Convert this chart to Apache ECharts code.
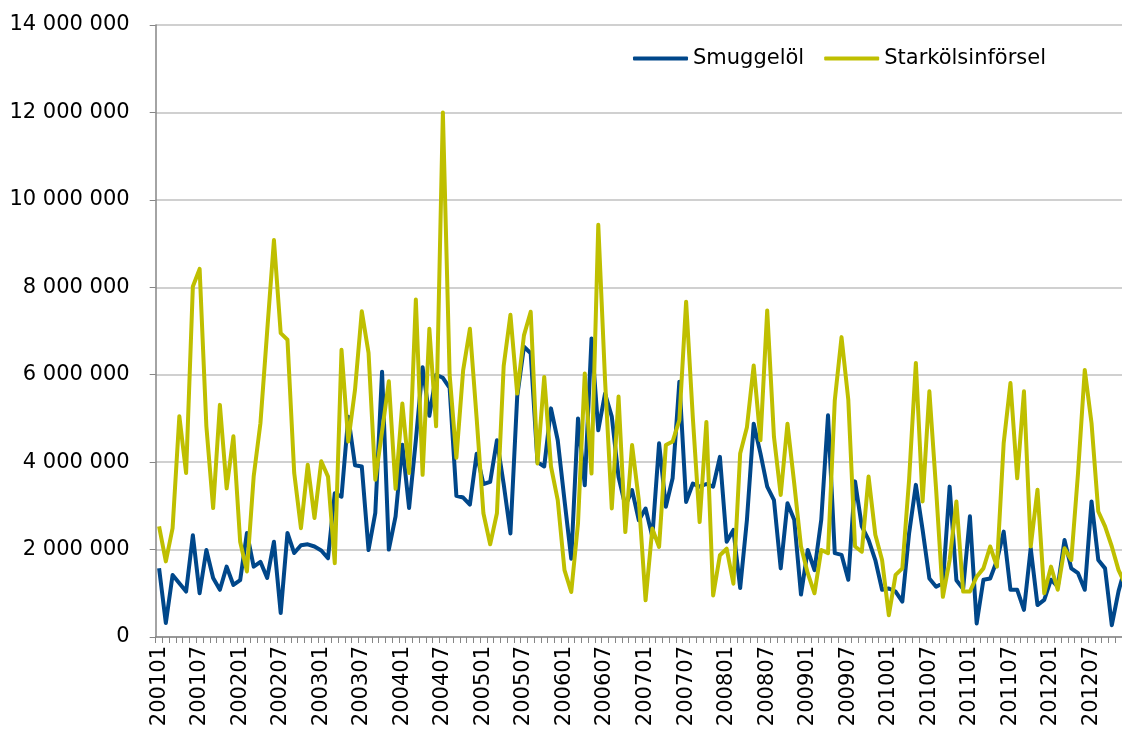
<!DOCTYPE html>
<html>
<head>
<meta charset="utf-8">
<script src="https://cdn.jsdelivr.net/npm/echarts@6/dist/echarts.min.js"></script>
<style>
  html, body { margin: 0; padding: 0; background: #fff; }
  #chart { width: 1122px; height: 736px; }
</style>
</head>
<body>
<div id="chart"></div>
<script>
// months 200101 .. 201212
var years = ['2001', '2002', '2003', '2004', '2005', '2006', '2007', '2008', '2009', '2010', '2011', '2012'];
var months = ['01', '02', '03', '04', '05', '06', '07', '08', '09', '10', '11', '12'];

// values in millions
var smuggelol = [
    1.57, 0.32, 1.42, 1.23, 1.04, 2.33, 1.00, 1.99, 1.35, 1.08, 1.61, 1.19,
    1.30, 2.38, 1.61, 1.72, 1.35, 2.18, 0.55, 2.38, 1.92, 2.10, 2.12, 2.07,
    1.98, 1.80, 3.29, 3.21, 5.04, 3.93, 3.90, 1.99, 2.84, 6.07, 2.00, 2.76,
    4.40, 2.95, 4.50, 6.17, 5.06, 6.00, 5.93, 5.70, 3.23, 3.19, 3.03, 4.19,
    3.50, 3.55, 4.50, 3.50, 2.37, 5.50, 6.64, 6.49, 4.00, 3.90, 5.23, 4.50,
    3.13, 1.79, 5.00, 3.47, 6.83, 4.73, 5.57, 5.04, 3.66, 3.00, 3.36, 2.67,
    2.94, 2.29, 4.43, 2.98, 3.63, 5.84, 3.09, 3.51, 3.44, 3.50, 3.44, 4.12,
    2.18, 2.45, 1.12, 2.68, 4.88, 4.20, 3.44, 3.13, 1.57, 3.06, 2.68, 0.97,
    1.99, 1.53, 2.68, 5.07, 1.92, 1.88, 1.31, 3.56, 2.53, 2.22, 1.76, 1.08,
    1.11, 1.04, 0.81, 2.37, 3.48, 2.45, 1.34, 1.15, 1.23, 3.44, 1.30, 1.10,
    2.76, 0.31, 1.31, 1.34, 1.75, 2.41, 1.08, 1.08, 0.62, 2.03, 0.73, 0.85,
    1.31, 1.15, 2.22, 1.57, 1.46, 1.08, 3.10, 1.76, 1.57, 0.27, 1.05, 1.60
];
var starkolsinforsel = [
    2.53, 1.73, 2.49, 5.05, 3.75, 8.02, 8.42, 4.82, 2.95, 5.31, 3.40, 4.59,
    2.18, 1.50, 3.67, 4.89, 7.00, 9.08, 6.95, 6.80, 3.75, 2.49, 3.94, 2.72,
    4.02, 3.67, 1.69, 6.57, 4.47, 5.66, 7.45, 6.50, 3.60, 4.70, 5.85, 3.39,
    5.34, 3.75, 7.72, 3.71, 7.05, 4.82, 12.00, 6.00, 4.10, 6.10, 7.05, 5.00,
    2.83, 2.12, 2.83, 6.20, 7.37, 5.57, 6.90, 7.44, 3.97, 5.95, 3.90, 3.13,
    1.53, 1.03, 2.60, 6.03, 3.74, 9.43, 5.88, 2.94, 5.50, 2.40, 4.39, 3.13,
    0.84, 2.48, 2.06, 4.39, 4.47, 4.96, 7.67, 5.00, 2.63, 4.92, 0.95, 1.87,
    2.02, 1.22, 4.20, 4.80, 6.21, 4.50, 7.47, 4.58, 3.25, 4.88, 3.51, 2.07,
    1.46, 1.00, 1.99, 1.92, 5.41, 6.86, 5.43, 2.07, 1.95, 3.67, 2.34, 1.76,
    0.50, 1.42, 1.57, 3.60, 6.27, 3.10, 5.62, 3.37, 0.92, 1.76, 3.10, 1.04,
    1.04, 1.38, 1.57, 2.07, 1.61, 4.44, 5.81, 3.63, 5.62, 2.07, 3.37, 1.00,
    1.61, 1.08, 2.03, 1.76, 3.75, 6.11, 4.89, 2.87, 2.53, 2.07, 1.53, 1.20
];

var categories = [];
years.forEach(function(y) {
    months.forEach(function(m) {
        categories.push(y + m);
    });
});

function toUnits(arr) {
    return arr.map(function(v) { return Math.round(v * 1000000); });
}

function spaced(v) {
    return String(v).replace(/\B(?=(\d{3})+(?!\d))/g, ' ');
}

var font = 'DejaVu Sans';
var axisGray = '#868686';

var option = {
    animation: false,
    backgroundColor: '#ffffff',
    // plot runs a bit past the right edge of the picture, like the original crop
    grid: {
        left: 155.7,
        top: 25,
        width: 973,
        height: 612,
        containLabel: false,
        outerBoundsMode: 'none'
    },
    legend: {
        left: 633,
        top: 48,
        padding: 0,
        itemWidth: 55,
        itemHeight: 4,
        itemGap: 20,
        icon: 'roundRect',
        textStyle: { fontFamily: font, fontSize: 21, color: '#000' },
        data: ['Smuggelöl', 'Starkölsinförsel']
    },
    xAxis: {
        type: 'category',
        boundaryGap: true,
        data: categories,
        axisLine: { lineStyle: { color: axisGray, width: 1.5 } },
        axisTick: { show: true, interval: 0, length: 6, lineStyle: { color: axisGray } },
        axisLabel: {
            interval: 5,
            rotate: 90,
            margin: 9,
            fontFamily: font,
            fontSize: 21,
            color: '#000'
        },
        splitLine: { show: false }
    },
    yAxis: {
        type: 'value',
        min: 0,
        max: 14000000,
        interval: 2000000,
        axisLine: { show: true, lineStyle: { color: axisGray, width: 1.5 } },
        axisTick: { show: true, length: 6, lineStyle: { color: axisGray } },
        axisLabel: {
            margin: 26,
            fontFamily: font,
            fontSize: 21,
            color: '#000',
            formatter: function(v) { return spaced(v); }
        },
        splitLine: { lineStyle: { color: '#c0c0c0', width: 1.5 } }
    },
    series: [
        {
            name: 'Smuggelöl',
            type: 'line',
            data: toUnits(smuggelol),
            showSymbol: false,
            color: '#00478a',
            lineStyle: { width: 4, join: 'round' }
        },
        {
            name: 'Starkölsinförsel',
            type: 'line',
            data: toUnits(starkolsinforsel),
            showSymbol: false,
            color: '#bfbf00',
            lineStyle: { width: 4, join: 'round' }
        }
    ]
};

echarts.init(document.getElementById('chart')).setOption(option);
</script>
</body>
</html>
